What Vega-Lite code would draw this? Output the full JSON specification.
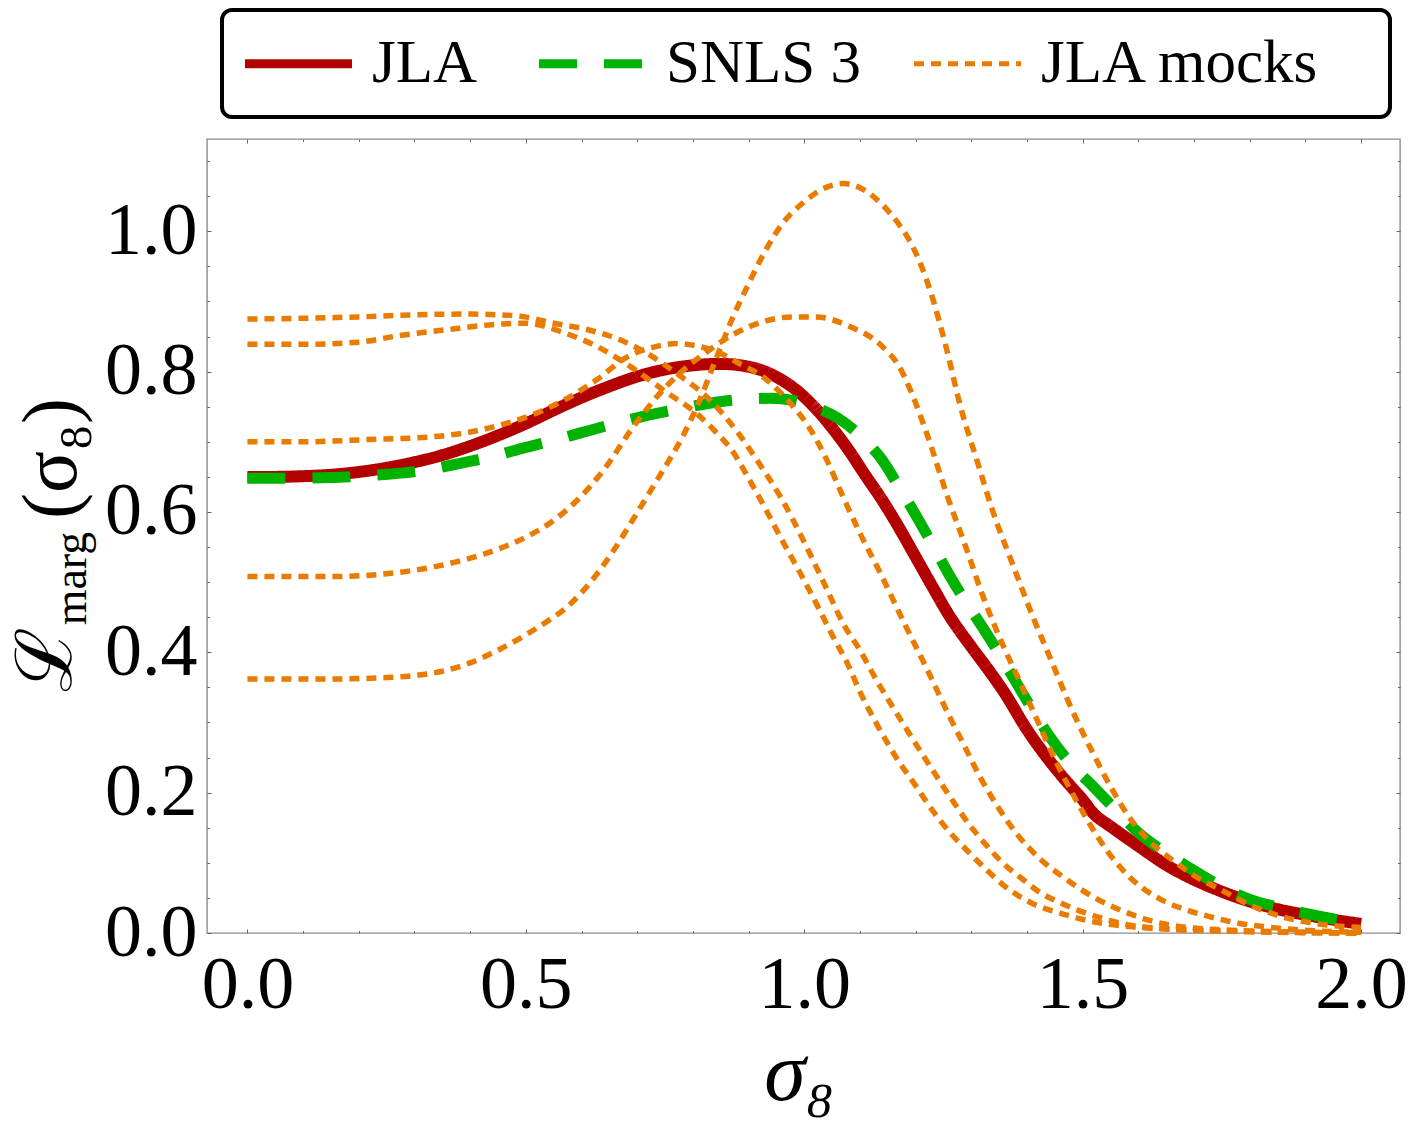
{
  "$schema": "https://vega.github.io/schema/vega-lite/v6.json",
  "width": 1193,
  "height": 794,
  "autosize": {"type": "none"},
  "padding": {"left": 207, "top": 139, "right": 9, "bottom": 189},
  "background": "white",
  "config": {
    "view": {"stroke": "#8c8c8c", "strokeWidth": 1.4},
    "axis": {"grid": false, "labelFont": "Liberation Serif", "titleFont": "Liberation Serif", "labelColor": "black", "titleColor": "black", "titleFontWeight": "normal", "tickColor": "#666666", "tickWidth": 1, "labelOverlap": false, "labelFlush": false},
    "legend": {"labelFont": "Liberation Serif", "titleFont": "Liberation Serif"}
  },
  "datasets": {
    "jla": [
      {"series":"JLA","curve":"jla","x":0,"y":0.650},{"series":"JLA","curve":"jla","x":0.05,"y":0.650},{"series":"JLA","curve":"jla","x":0.1,"y":0.651},{"series":"JLA","curve":"jla","x":0.15,"y":0.653},{"series":"JLA","curve":"jla","x":0.2,"y":0.657},{"series":"JLA","curve":"jla","x":0.25,"y":0.663},{"series":"JLA","curve":"jla","x":0.3,"y":0.671},{"series":"JLA","curve":"jla","x":0.35,"y":0.681},{"series":"JLA","curve":"jla","x":0.4,"y":0.694},{"series":"JLA","curve":"jla","x":0.45,"y":0.709},{"series":"JLA","curve":"jla","x":0.5,"y":0.726},{"series":"JLA","curve":"jla","x":0.55,"y":0.745},{"series":"JLA","curve":"jla","x":0.6,"y":0.763},{"series":"JLA","curve":"jla","x":0.65,"y":0.779},{"series":"JLA","curve":"jla","x":0.7,"y":0.793},{"series":"JLA","curve":"jla","x":0.75,"y":0.803},{"series":"JLA","curve":"jla","x":0.8,"y":0.809},{"series":"JLA","curve":"jla","x":0.85,"y":0.811},{"series":"JLA","curve":"jla","x":0.9,"y":0.807},{"series":"JLA","curve":"jla","x":0.93,"y":0.800},{"series":"JLA","curve":"jla","x":0.96,"y":0.788},{"series":"JLA","curve":"jla","x":0.99,"y":0.771},{"series":"JLA","curve":"jla","x":1.02,"y":0.748},{"series":"JLA","curve":"jla","x":1.05,"y":0.720},{"series":"JLA","curve":"jla","x":1.08,"y":0.688},{"series":"JLA","curve":"jla","x":1.11,"y":0.652},{"series":"JLA","curve":"jla","x":1.14,"y":0.617},{"series":"JLA","curve":"jla","x":1.17,"y":0.578},{"series":"JLA","curve":"jla","x":1.2,"y":0.536},{"series":"JLA","curve":"jla","x":1.23,"y":0.494},{"series":"JLA","curve":"jla","x":1.26,"y":0.453},{"series":"JLA","curve":"jla","x":1.3,"y":0.408},{"series":"JLA","curve":"jla","x":1.33,"y":0.376},{"series":"JLA","curve":"jla","x":1.36,"y":0.342},{"series":"JLA","curve":"jla","x":1.4,"y":0.290},{"series":"JLA","curve":"jla","x":1.44,"y":0.246},{"series":"JLA","curve":"jla","x":1.47,"y":0.217},{"series":"JLA","curve":"jla","x":1.5,"y":0.190},{"series":"JLA","curve":"jla","x":1.52,"y":0.170},{"series":"JLA","curve":"jla","x":1.55,"y":0.152},{"series":"JLA","curve":"jla","x":1.6,"y":0.124},{"series":"JLA","curve":"jla","x":1.65,"y":0.097},{"series":"JLA","curve":"jla","x":1.7,"y":0.076},{"series":"JLA","curve":"jla","x":1.75,"y":0.059},{"series":"JLA","curve":"jla","x":1.8,"y":0.045},{"series":"JLA","curve":"jla","x":1.85,"y":0.034},{"series":"JLA","curve":"jla","x":1.9,"y":0.026},{"series":"JLA","curve":"jla","x":1.95,"y":0.019},{"series":"JLA","curve":"jla","x":2.0,"y":0.013}
    ],
    "snls": [
      {"series":"SNLS 3","curve":"snls","x":0,"y":0.648},{"series":"SNLS 3","curve":"snls","x":0.06,"y":0.648},{"series":"SNLS 3","curve":"snls","x":0.15,"y":0.649},{"series":"SNLS 3","curve":"snls","x":0.2,"y":0.651},{"series":"SNLS 3","curve":"snls","x":0.27,"y":0.655},{"series":"SNLS 3","curve":"snls","x":0.33,"y":0.661},{"series":"SNLS 3","curve":"snls","x":0.38,"y":0.669},{"series":"SNLS 3","curve":"snls","x":0.44,"y":0.679},{"series":"SNLS 3","curve":"snls","x":0.5,"y":0.692},{"series":"SNLS 3","curve":"snls","x":0.55,"y":0.702},{"series":"SNLS 3","curve":"snls","x":0.6,"y":0.713},{"series":"SNLS 3","curve":"snls","x":0.66,"y":0.726},{"series":"SNLS 3","curve":"snls","x":0.72,"y":0.738},{"series":"SNLS 3","curve":"snls","x":0.77,"y":0.746},{"series":"SNLS 3","curve":"snls","x":0.83,"y":0.755},{"series":"SNLS 3","curve":"snls","x":0.88,"y":0.760},{"series":"SNLS 3","curve":"snls","x":0.94,"y":0.762},{"series":"SNLS 3","curve":"snls","x":0.98,"y":0.759},{"series":"SNLS 3","curve":"snls","x":1.02,"y":0.749},{"series":"SNLS 3","curve":"snls","x":1.06,"y":0.734},{"series":"SNLS 3","curve":"snls","x":1.1,"y":0.709},{"series":"SNLS 3","curve":"snls","x":1.14,"y":0.674},{"series":"SNLS 3","curve":"snls","x":1.17,"y":0.636},{"series":"SNLS 3","curve":"snls","x":1.2,"y":0.596},{"series":"SNLS 3","curve":"snls","x":1.23,"y":0.554},{"series":"SNLS 3","curve":"snls","x":1.26,"y":0.511},{"series":"SNLS 3","curve":"snls","x":1.29,"y":0.472},{"series":"SNLS 3","curve":"snls","x":1.32,"y":0.436},{"series":"SNLS 3","curve":"snls","x":1.35,"y":0.398},{"series":"SNLS 3","curve":"snls","x":1.38,"y":0.358},{"series":"SNLS 3","curve":"snls","x":1.41,"y":0.318},{"series":"SNLS 3","curve":"snls","x":1.44,"y":0.281},{"series":"SNLS 3","curve":"snls","x":1.48,"y":0.240},{"series":"SNLS 3","curve":"snls","x":1.52,"y":0.208},{"series":"SNLS 3","curve":"snls","x":1.56,"y":0.175},{"series":"SNLS 3","curve":"snls","x":1.6,"y":0.143},{"series":"SNLS 3","curve":"snls","x":1.65,"y":0.114},{"series":"SNLS 3","curve":"snls","x":1.7,"y":0.089},{"series":"SNLS 3","curve":"snls","x":1.75,"y":0.066},{"series":"SNLS 3","curve":"snls","x":1.8,"y":0.048},{"series":"SNLS 3","curve":"snls","x":1.85,"y":0.037},{"series":"SNLS 3","curve":"snls","x":1.9,"y":0.028},{"series":"SNLS 3","curve":"snls","x":1.95,"y":0.020},{"series":"SNLS 3","curve":"snls","x":2.0,"y":0.014}
    ],
    "mocks": [
      {"series":"JLA mocks","curve":"m1","x":0,"y":0.875},{"series":"JLA mocks","curve":"m1","x":0.1,"y":0.876},{"series":"JLA mocks","curve":"m1","x":0.2,"y":0.878},{"series":"JLA mocks","curve":"m1","x":0.3,"y":0.881},{"series":"JLA mocks","curve":"m1","x":0.4,"y":0.882},{"series":"JLA mocks","curve":"m1","x":0.45,"y":0.881},{"series":"JLA mocks","curve":"m1","x":0.49,"y":0.879},{"series":"JLA mocks","curve":"m1","x":0.55,"y":0.869},{"series":"JLA mocks","curve":"m1","x":0.61,"y":0.860},{"series":"JLA mocks","curve":"m1","x":0.67,"y":0.845},{"series":"JLA mocks","curve":"m1","x":0.72,"y":0.825},{"series":"JLA mocks","curve":"m1","x":0.77,"y":0.798},{"series":"JLA mocks","curve":"m1","x":0.83,"y":0.760},{"series":"JLA mocks","curve":"m1","x":0.88,"y":0.714},{"series":"JLA mocks","curve":"m1","x":0.92,"y":0.668},{"series":"JLA mocks","curve":"m1","x":0.96,"y":0.618},{"series":"JLA mocks","curve":"m1","x":1.0,"y":0.557},{"series":"JLA mocks","curve":"m1","x":1.04,"y":0.491},{"series":"JLA mocks","curve":"m1","x":1.07,"y":0.441},{"series":"JLA mocks","curve":"m1","x":1.1,"y":0.403},{"series":"JLA mocks","curve":"m1","x":1.13,"y":0.360},{"series":"JLA mocks","curve":"m1","x":1.163,"y":0.317},{"series":"JLA mocks","curve":"m1","x":1.196,"y":0.275},{"series":"JLA mocks","curve":"m1","x":1.229,"y":0.234},{"series":"JLA mocks","curve":"m1","x":1.262,"y":0.194},{"series":"JLA mocks","curve":"m1","x":1.295,"y":0.156},{"series":"JLA mocks","curve":"m1","x":1.325,"y":0.127},{"series":"JLA mocks","curve":"m1","x":1.355,"y":0.101},{"series":"JLA mocks","curve":"m1","x":1.39,"y":0.078},{"series":"JLA mocks","curve":"m1","x":1.423,"y":0.058},{"series":"JLA mocks","curve":"m1","x":1.46,"y":0.043},{"series":"JLA mocks","curve":"m1","x":1.5,"y":0.030},{"series":"JLA mocks","curve":"m1","x":1.54,"y":0.020},{"series":"JLA mocks","curve":"m1","x":1.58,"y":0.012},{"series":"JLA mocks","curve":"m1","x":1.65,"y":0.006},{"series":"JLA mocks","curve":"m1","x":1.75,"y":0.003},{"series":"JLA mocks","curve":"m1","x":1.85,"y":0.001},{"series":"JLA mocks","curve":"m1","x":2.0,"y":0.0},
      {"series":"JLA mocks","curve":"m2","x":0,"y":0.839},{"series":"JLA mocks","curve":"m2","x":0.1,"y":0.839},{"series":"JLA mocks","curve":"m2","x":0.2,"y":0.842},{"series":"JLA mocks","curve":"m2","x":0.27,"y":0.851},{"series":"JLA mocks","curve":"m2","x":0.36,"y":0.860},{"series":"JLA mocks","curve":"m2","x":0.46,"y":0.868},{"series":"JLA mocks","curve":"m2","x":0.5,"y":0.869},{"series":"JLA mocks","curve":"m2","x":0.57,"y":0.855},{"series":"JLA mocks","curve":"m2","x":0.63,"y":0.835},{"series":"JLA mocks","curve":"m2","x":0.69,"y":0.806},{"series":"JLA mocks","curve":"m2","x":0.75,"y":0.772},{"series":"JLA mocks","curve":"m2","x":0.81,"y":0.738},{"series":"JLA mocks","curve":"m2","x":0.84,"y":0.715},{"series":"JLA mocks","curve":"m2","x":0.87,"y":0.688},{"series":"JLA mocks","curve":"m2","x":0.9,"y":0.648},{"series":"JLA mocks","curve":"m2","x":0.93,"y":0.605},{"series":"JLA mocks","curve":"m2","x":0.96,"y":0.560},{"series":"JLA mocks","curve":"m2","x":0.99,"y":0.517},{"series":"JLA mocks","curve":"m2","x":1.02,"y":0.472},{"series":"JLA mocks","curve":"m2","x":1.05,"y":0.425},{"series":"JLA mocks","curve":"m2","x":1.08,"y":0.380},{"series":"JLA mocks","curve":"m2","x":1.1,"y":0.344},{"series":"JLA mocks","curve":"m2","x":1.13,"y":0.298},{"series":"JLA mocks","curve":"m2","x":1.163,"y":0.253},{"series":"JLA mocks","curve":"m2","x":1.2,"y":0.210},{"series":"JLA mocks","curve":"m2","x":1.232,"y":0.173},{"series":"JLA mocks","curve":"m2","x":1.262,"y":0.143},{"series":"JLA mocks","curve":"m2","x":1.292,"y":0.118},{"series":"JLA mocks","curve":"m2","x":1.325,"y":0.092},{"series":"JLA mocks","curve":"m2","x":1.358,"y":0.068},{"series":"JLA mocks","curve":"m2","x":1.41,"y":0.042},{"series":"JLA mocks","curve":"m2","x":1.465,"y":0.027},{"series":"JLA mocks","curve":"m2","x":1.52,"y":0.016},{"series":"JLA mocks","curve":"m2","x":1.6,"y":0.008},{"series":"JLA mocks","curve":"m2","x":1.7,"y":0.004},{"series":"JLA mocks","curve":"m2","x":1.8,"y":0.002},{"series":"JLA mocks","curve":"m2","x":2.0,"y":0.0},
      {"series":"JLA mocks","curve":"m3","x":0,"y":0.700},{"series":"JLA mocks","curve":"m3","x":0.1,"y":0.700},{"series":"JLA mocks","curve":"m3","x":0.21,"y":0.703},{"series":"JLA mocks","curve":"m3","x":0.33,"y":0.707},{"series":"JLA mocks","curve":"m3","x":0.4,"y":0.714},{"series":"JLA mocks","curve":"m3","x":0.45,"y":0.723},{"series":"JLA mocks","curve":"m3","x":0.51,"y":0.738},{"series":"JLA mocks","curve":"m3","x":0.57,"y":0.760},{"series":"JLA mocks","curve":"m3","x":0.63,"y":0.790},{"series":"JLA mocks","curve":"m3","x":0.68,"y":0.820},{"series":"JLA mocks","curve":"m3","x":0.73,"y":0.835},{"series":"JLA mocks","curve":"m3","x":0.77,"y":0.840},{"series":"JLA mocks","curve":"m3","x":0.81,"y":0.836},{"series":"JLA mocks","curve":"m3","x":0.85,"y":0.826},{"series":"JLA mocks","curve":"m3","x":0.88,"y":0.813},{"series":"JLA mocks","curve":"m3","x":0.93,"y":0.790},{"series":"JLA mocks","curve":"m3","x":0.975,"y":0.755},{"series":"JLA mocks","curve":"m3","x":1.01,"y":0.719},{"series":"JLA mocks","curve":"m3","x":1.04,"y":0.675},{"series":"JLA mocks","curve":"m3","x":1.07,"y":0.621},{"series":"JLA mocks","curve":"m3","x":1.1,"y":0.570},{"series":"JLA mocks","curve":"m3","x":1.136,"y":0.514},{"series":"JLA mocks","curve":"m3","x":1.18,"y":0.441},{"series":"JLA mocks","curve":"m3","x":1.223,"y":0.372},{"series":"JLA mocks","curve":"m3","x":1.26,"y":0.310},{"series":"JLA mocks","curve":"m3","x":1.29,"y":0.263},{"series":"JLA mocks","curve":"m3","x":1.316,"y":0.222},{"series":"JLA mocks","curve":"m3","x":1.346,"y":0.182},{"series":"JLA mocks","curve":"m3","x":1.382,"y":0.141},{"series":"JLA mocks","curve":"m3","x":1.423,"y":0.106},{"series":"JLA mocks","curve":"m3","x":1.47,"y":0.077},{"series":"JLA mocks","curve":"m3","x":1.52,"y":0.051},{"series":"JLA mocks","curve":"m3","x":1.576,"y":0.030},{"series":"JLA mocks","curve":"m3","x":1.64,"y":0.014},{"series":"JLA mocks","curve":"m3","x":1.7,"y":0.007},{"series":"JLA mocks","curve":"m3","x":1.8,"y":0.003},{"series":"JLA mocks","curve":"m3","x":2.0,"y":0.0},
      {"series":"JLA mocks","curve":"m4","x":0,"y":0.508},{"series":"JLA mocks","curve":"m4","x":0.15,"y":0.508},{"series":"JLA mocks","curve":"m4","x":0.25,"y":0.512},{"series":"JLA mocks","curve":"m4","x":0.33,"y":0.521},{"series":"JLA mocks","curve":"m4","x":0.39,"y":0.532},{"series":"JLA mocks","curve":"m4","x":0.45,"y":0.547},{"series":"JLA mocks","curve":"m4","x":0.5,"y":0.564},{"series":"JLA mocks","curve":"m4","x":0.55,"y":0.588},{"series":"JLA mocks","curve":"m4","x":0.59,"y":0.615},{"series":"JLA mocks","curve":"m4","x":0.64,"y":0.660},{"series":"JLA mocks","curve":"m4","x":0.69,"y":0.718},{"series":"JLA mocks","curve":"m4","x":0.75,"y":0.777},{"series":"JLA mocks","curve":"m4","x":0.79,"y":0.807},{"series":"JLA mocks","curve":"m4","x":0.83,"y":0.831},{"series":"JLA mocks","curve":"m4","x":0.87,"y":0.852},{"series":"JLA mocks","curve":"m4","x":0.93,"y":0.872},{"series":"JLA mocks","curve":"m4","x":0.98,"y":0.878},{"series":"JLA mocks","curve":"m4","x":1.02,"y":0.878},{"series":"JLA mocks","curve":"m4","x":1.08,"y":0.865},{"series":"JLA mocks","curve":"m4","x":1.14,"y":0.836},{"series":"JLA mocks","curve":"m4","x":1.17,"y":0.808},{"series":"JLA mocks","curve":"m4","x":1.19,"y":0.775},{"series":"JLA mocks","curve":"m4","x":1.22,"y":0.712},{"series":"JLA mocks","curve":"m4","x":1.256,"y":0.625},{"series":"JLA mocks","curve":"m4","x":1.292,"y":0.546},{"series":"JLA mocks","curve":"m4","x":1.32,"y":0.482},{"series":"JLA mocks","curve":"m4","x":1.357,"y":0.410},{"series":"JLA mocks","curve":"m4","x":1.385,"y":0.362},{"series":"JLA mocks","curve":"m4","x":1.418,"y":0.304},{"series":"JLA mocks","curve":"m4","x":1.453,"y":0.243},{"series":"JLA mocks","curve":"m4","x":1.483,"y":0.197},{"series":"JLA mocks","curve":"m4","x":1.513,"y":0.155},{"series":"JLA mocks","curve":"m4","x":1.546,"y":0.115},{"series":"JLA mocks","curve":"m4","x":1.588,"y":0.077},{"series":"JLA mocks","curve":"m4","x":1.64,"y":0.048},{"series":"JLA mocks","curve":"m4","x":1.69,"y":0.032},{"series":"JLA mocks","curve":"m4","x":1.72,"y":0.025},{"series":"JLA mocks","curve":"m4","x":1.78,"y":0.014},{"series":"JLA mocks","curve":"m4","x":1.85,"y":0.007},{"series":"JLA mocks","curve":"m4","x":1.92,"y":0.003},{"series":"JLA mocks","curve":"m4","x":2.0,"y":0.001},
      {"series":"JLA mocks","curve":"m5","x":0,"y":0.362},{"series":"JLA mocks","curve":"m5","x":0.15,"y":0.362},{"series":"JLA mocks","curve":"m5","x":0.25,"y":0.364},{"series":"JLA mocks","curve":"m5","x":0.3,"y":0.367},{"series":"JLA mocks","curve":"m5","x":0.35,"y":0.373},{"series":"JLA mocks","curve":"m5","x":0.4,"y":0.385},{"series":"JLA mocks","curve":"m5","x":0.45,"y":0.403},{"series":"JLA mocks","curve":"m5","x":0.5,"y":0.425},{"series":"JLA mocks","curve":"m5","x":0.54,"y":0.445},{"series":"JLA mocks","curve":"m5","x":0.57,"y":0.462},{"series":"JLA mocks","curve":"m5","x":0.6,"y":0.485},{"series":"JLA mocks","curve":"m5","x":0.63,"y":0.514},{"series":"JLA mocks","curve":"m5","x":0.66,"y":0.548},{"series":"JLA mocks","curve":"m5","x":0.69,"y":0.586},{"series":"JLA mocks","curve":"m5","x":0.72,"y":0.625},{"series":"JLA mocks","curve":"m5","x":0.75,"y":0.664},{"series":"JLA mocks","curve":"m5","x":0.78,"y":0.705},{"series":"JLA mocks","curve":"m5","x":0.81,"y":0.755},{"series":"JLA mocks","curve":"m5","x":0.84,"y":0.815},{"series":"JLA mocks","curve":"m5","x":0.87,"y":0.874},{"series":"JLA mocks","curve":"m5","x":0.9,"y":0.925},{"series":"JLA mocks","curve":"m5","x":0.93,"y":0.972},{"series":"JLA mocks","curve":"m5","x":0.96,"y":1.010},{"series":"JLA mocks","curve":"m5","x":1.0,"y":1.042},{"series":"JLA mocks","curve":"m5","x":1.03,"y":1.059},{"series":"JLA mocks","curve":"m5","x":1.07,"y":1.068},{"series":"JLA mocks","curve":"m5","x":1.1,"y":1.062},{"series":"JLA mocks","curve":"m5","x":1.14,"y":1.038},{"series":"JLA mocks","curve":"m5","x":1.17,"y":1.010},{"series":"JLA mocks","curve":"m5","x":1.195,"y":0.978},{"series":"JLA mocks","curve":"m5","x":1.226,"y":0.916},{"series":"JLA mocks","curve":"m5","x":1.256,"y":0.831},{"series":"JLA mocks","curve":"m5","x":1.28,"y":0.752},{"series":"JLA mocks","curve":"m5","x":1.31,"y":0.674},{"series":"JLA mocks","curve":"m5","x":1.34,"y":0.598},{"series":"JLA mocks","curve":"m5","x":1.376,"y":0.522},{"series":"JLA mocks","curve":"m5","x":1.411,"y":0.450},{"series":"JLA mocks","curve":"m5","x":1.447,"y":0.382},{"series":"JLA mocks","curve":"m5","x":1.471,"y":0.336},{"series":"JLA mocks","curve":"m5","x":1.495,"y":0.294},{"series":"JLA mocks","curve":"m5","x":1.522,"y":0.251},{"series":"JLA mocks","curve":"m5","x":1.552,"y":0.206},{"series":"JLA mocks","curve":"m5","x":1.582,"y":0.167},{"series":"JLA mocks","curve":"m5","x":1.621,"y":0.130},{"series":"JLA mocks","curve":"m5","x":1.663,"y":0.103},{"series":"JLA mocks","curve":"m5","x":1.7,"y":0.082},{"series":"JLA mocks","curve":"m5","x":1.75,"y":0.061},{"series":"JLA mocks","curve":"m5","x":1.8,"y":0.040},{"series":"JLA mocks","curve":"m5","x":1.855,"y":0.024},{"series":"JLA mocks","curve":"m5","x":1.914,"y":0.014},{"series":"JLA mocks","curve":"m5","x":1.974,"y":0.009},{"series":"JLA mocks","curve":"m5","x":2.0,"y":0.008}
    ]
  },
  "layer": [
    {
      "data": {"name": "jla"},
      "mark": {"type": "line", "strokeWidth": 12, "interpolate": "monotone"},
      "encoding": {
        "x": {"field": "x", "type": "quantitative",
          "scale": {"domain": [-0.0726, 2.07], "nice": false, "zero": false},
          "axis": {"orient": "bottom", "values": [0, 0.5, 1, 1.5, 2], "format": ".1f", "labelFontSize": 74, "labelPadding": 16, "ticks": false, "domain": false,
            "title": "σ₈", "titleFontSize": 84, "titleFontStyle": "italic", "titleX": 592, "titleY": 166, "titleAlign": "center", "titleBaseline": "alphabetic", "titleAngle": 0}},
        "y": {"field": "y", "type": "quantitative",
          "scale": {"domain": [0, 1.1315], "nice": false, "zero": false},
          "axis": {"orient": "left", "values": [0, 0.2, 0.4, 0.6, 0.8, 1.0], "format": ".1f", "labelFontSize": 74, "labelPadding": 10, "ticks": false, "domain": false,
            "title": "ℒ", "titleFontSize": 78, "titleFont": "Liberation Serif, DejaVu Serif, serif", "titleX": -137, "titleY": 520, "titleAngle": 270, "titleAlign": "center", "titleBaseline": "alphabetic"}},
        "color": {"field": "series", "type": "nominal",
          "scale": {"domain": ["JLA", "SNLS 3", "JLA mocks"], "range": ["#b30000", "#00b300", "#e97b00"]},
          "legend": {"orient": "none", "legendX": 15, "legendY": -129, "direction": "horizontal", "columns": 3,
            "title": " ", "titleOrient": "right", "titlePadding": 46, "titleFontSize": 4, "titleFont": "Liberation Serif",
            "labelFont": "Liberation Serif", "labelFontSize": 61, "labelColor": "black", "labelOffset": 43, "labelLimit": 600,
            "symbolType": "stroke", "symbolSize": 11449, "symbolStrokeWidth": 9, "symbolOffset": 23,
            "columnPadding": 43, "padding": 23,
            "strokeColor": "black", "cornerRadius": 10, "fillColor": "white",
            "encode": {
              "legend": {"update": {"strokeWidth": {"value": 4}}},
              "labels": {"update": {"font": {"value": "Liberation Serif"}}},
              "symbols": {"update": {"strokeWidth": {"signal": "datum.value === 'JLA mocks' ? 5 : 9"}}}}}},
        "strokeDash": {"field": "series", "type": "nominal",
          "scale": {"domain": ["JLA", "SNLS 3", "JLA mocks"], "range": [[1, 0], [38, 27], [10, 7]]}}
      }
    },
    {
      "data": {"name": "snls"},
      "mark": {"type": "line", "strokeWidth": 11, "interpolate": "monotone"},
      "encoding": {
        "x": {"field": "x", "type": "quantitative",
          "axis": {"orient": "bottom", "values": [0, 0.5, 1, 1.5, 2], "labels": false, "domain": false, "tickSize": -4, "title": null}},
        "y": {"field": "y", "type": "quantitative",
          "axis": {"orient": "left", "values": [0, 0.2, 0.4, 0.6, 0.8, 1.0], "labels": false, "domain": false, "tickSize": -4,
            "title": "marg", "titleFontSize": 46, "titleX": -122, "titleY": 439, "titleAngle": 270, "titleAlign": "center", "titleBaseline": "alphabetic"}},
        "color": {"field": "series", "type": "nominal"},
        "strokeDash": {"field": "series", "type": "nominal"}
      }
    },
    {
      "data": {"name": "mocks"},
      "mark": {"type": "line", "strokeWidth": 5.5, "interpolate": "monotone"},
      "encoding": {
        "x": {"field": "x", "type": "quantitative",
          "axis": {"orient": "bottom", "values": [0.1, 0.2, 0.3, 0.4, 0.6, 0.7, 0.8, 0.9, 1.1, 1.2, 1.3, 1.4, 1.6, 1.7, 1.8, 1.9], "labels": false, "domain": false, "tickSize": -2.5, "title": null}},
        "y": {"field": "y", "type": "quantitative",
          "axis": {"orient": "left", "values": [0.05, 0.1, 0.15, 0.25, 0.3, 0.35, 0.45, 0.5, 0.55, 0.65, 0.7, 0.75, 0.85, 0.9, 0.95, 1.05, 1.1], "labels": false, "domain": false, "tickSize": -2.5,
            "title": "(σ₈)", "titleFontSize": 78, "titleX": -132, "titleY": 319, "titleAngle": 270, "titleAlign": "center", "titleBaseline": "alphabetic"}},
        "color": {"field": "series", "type": "nominal"},
        "strokeDash": {"field": "series", "type": "nominal"},
        "detail": {"field": "curve", "type": "nominal"}
      }
    },
    {
      "data": {"name": "jla"},
      "mark": {"type": "point", "opacity": 0},
      "encoding": {
        "x": {"field": "x", "type": "quantitative",
          "axis": {"orient": "top", "values": [0, 0.5, 1, 1.5, 2], "labels": false, "domain": false, "tickSize": -4, "title": null}},
        "y": {"field": "y", "type": "quantitative",
          "axis": {"orient": "right", "values": [0, 0.2, 0.4, 0.6, 0.8, 1.0], "labels": false, "domain": false, "tickSize": -4, "title": null}}
      }
    },
    {
      "data": {"name": "jla"},
      "mark": {"type": "point", "opacity": 0},
      "encoding": {
        "x": {"field": "x", "type": "quantitative",
          "axis": {"orient": "top", "values": [0.1, 0.2, 0.3, 0.4, 0.6, 0.7, 0.8, 0.9, 1.1, 1.2, 1.3, 1.4, 1.6, 1.7, 1.8, 1.9], "labels": false, "domain": false, "tickSize": -2.5, "title": null}},
        "y": {"field": "y", "type": "quantitative",
          "axis": {"orient": "right", "values": [0.05, 0.1, 0.15, 0.25, 0.3, 0.35, 0.45, 0.5, 0.55, 0.65, 0.7, 0.75, 0.85, 0.9, 0.95, 1.05, 1.1], "labels": false, "domain": false, "tickSize": -2.5, "title": null}}
      }
    }
  ],
  "resolve": {"axis": {"x": "independent", "y": "independent"}}
}
